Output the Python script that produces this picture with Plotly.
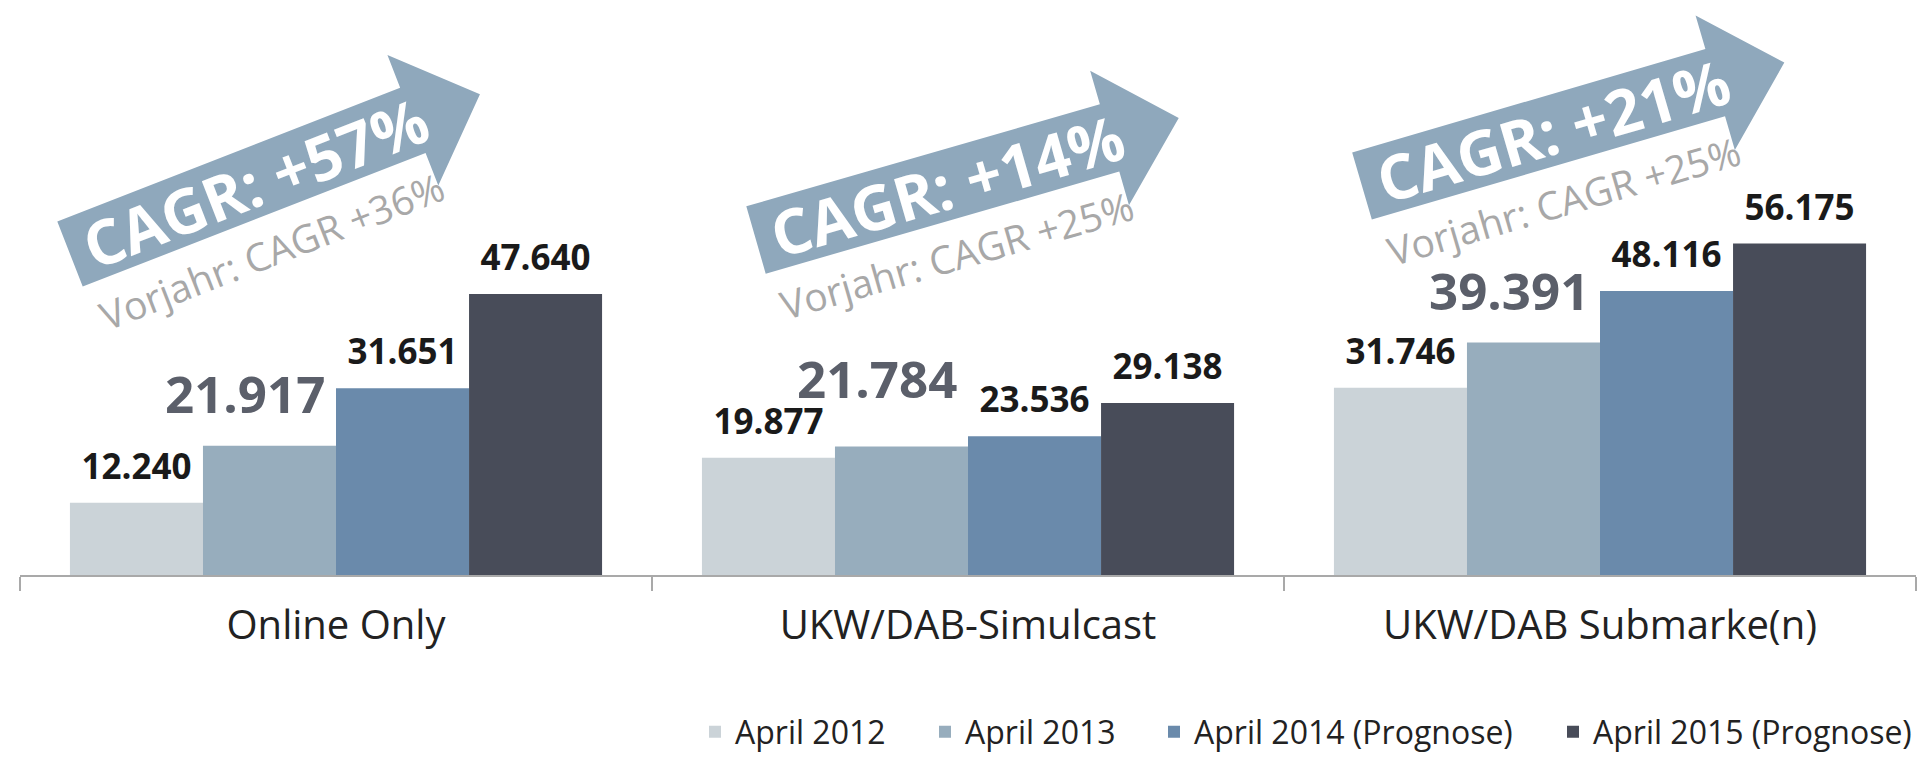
import math
import plotly.graph_objects as go

# ---------------- data ----------------
categories = ["Online Only", "UKW/DAB-Simulcast", "UKW/DAB Submarke(n)"]
series_names = ["April 2012", "April 2013", "April 2014 (Prognose)", "April 2015 (Prognose)"]
values_2012 = [12240, 19877, 31746]
values_2013 = [21917, 21784, 39391]
values_2014 = [31651, 23536, 48116]
values_2015 = [47640, 29138, 56175]
cagr_labels = ["CAGR: +57%", "CAGR: +14%", "CAGR: +21%"]
vorjahr_labels = ["Vorjahr: CAGR +36%", "Vorjahr: CAGR +25%", "Vorjahr: CAGR +25%"]

# ---------------- styling ----------------
bar_colors = ["#cbd3d8", "#97adbd", "#6a8aab", "#484c59"]
arrow_color = "#8fa8bc"
W, H = 1928, 757
ML, MR, MT, MB = 12, 20, 0, 190
PW = W - ML - MR
PH = H - MT - MB
Y_MAX = 96100
BARGAP = 0.158
N_SERIES = 4
BAR_PX = PW / len(categories) * (1 - BARGAP) / N_SERIES
HIGHLIGHT = 1  # April 2013 labels are emphasised
LABEL_CLEAR = 4500  # keep emphasised label clear of the neighbouring (left) label

NORMAL_TT = ("<b><span style='font-size:35px'>%{y:,.0f}</span></b>"
             "<br><span style='color:rgba(0,0,0,0)'>.</span>")

legend_text_px = [727, 957, 1186, 1585]
legend_ids = ["legend", "legend2", "legend3", "legend4"]

fig = go.Figure()
all_values = [values_2012, values_2013, values_2014, values_2015]
for i, (name, vals) in enumerate(zip(series_names, all_values)):
    big = (i == HIGHLIGHT)
    fig.add_trace(go.Bar(
        name=name, x=categories, y=vals,
        legend=legend_ids[i],
        marker=dict(color=bar_colors[i], line=dict(width=0)),
        texttemplate=None if big else NORMAL_TT,
        textposition="none" if big else "outside",
        textangle=0,
        constraintext="none",
        cliponaxis=False,
        outsidetextfont=dict(family="Open Sans", size=13, color="#1a1a1a"),
        hoverinfo="skip",
    ))


def de_format(v):
    return f"{v:,.0f}".replace(",", ".")


annotations = []
# emphasised April 2013 value labels (sit slightly left of their bar)
offset_px = (HIGHLIGHT - (N_SERIES - 1) / 2) * BAR_PX
for cat, v, v_left in zip(categories, values_2013, values_2012):
    annotations.append(dict(
        xref="x", yref="y", x=cat, y=max(v, v_left + LABEL_CLEAR),
        text=f"<b>{de_format(v)}</b>",
        showarrow=False, xanchor="center", yanchor="bottom",
        xshift=offset_px - 24, yshift=16,
        font=dict(family="Open Sans", size=51, color="#5b5f6a")))


def to_paper(px, py):
    return (px - ML) / PW, (H - MB - py) / PH


# decorative CAGR arrows (pixel geometry)
arrow_tail = [(62, 246), (748, 232), (1354, 178)]
arrow_angle = [21.3, 16.1, 16.3]
SHAFT_LEN, HEAD_LEN, SHAFT_W, HEAD_W = 368, 72, 70, 140
TEXT_ALONG, SUB_ALONG, SUB_NORMAL = 199, 189, 70

shapes = []
for (cx, cy), ang, lab, sub in zip(arrow_tail, arrow_angle, cagr_labels, vorjahr_labels):
    a = math.radians(ang)
    d = (math.cos(a), -math.sin(a))
    n = (math.sin(a), math.cos(a))

    def pt(u, v):
        return (cx + u * d[0] + v * n[0], cy + u * d[1] + v * n[1])

    local = [(0, -SHAFT_W / 2), (SHAFT_LEN, -SHAFT_W / 2), (SHAFT_LEN, -HEAD_W / 2),
             (SHAFT_LEN + HEAD_LEN, 0), (SHAFT_LEN, HEAD_W / 2), (SHAFT_LEN, SHAFT_W / 2),
             (0, SHAFT_W / 2)]
    pts = [to_paper(*pt(u, v)) for u, v in local]
    path = "M " + " L ".join(f"{x:.5f},{y:.5f}" for x, y in pts) + " Z"
    shapes.append(dict(type="path", xref="paper", yref="paper", path=path,
                       fillcolor=arrow_color, line=dict(width=0), layer="below"))
    tx, ty = to_paper(*pt(TEXT_ALONG, 0))
    annotations.append(dict(xref="paper", yref="paper", x=tx, y=ty, text=f"<b>{lab}</b>",
                            showarrow=False, textangle=-ang, xanchor="center", yanchor="middle",
                            font=dict(family="Open Sans", size=62, color="white")))
    sx, sy = to_paper(*pt(SUB_ALONG, SUB_NORMAL))
    annotations.append(dict(xref="paper", yref="paper", x=sx, y=sy, text=sub,
                            showarrow=False, textangle=-ang, xanchor="center", yanchor="middle",
                            font=dict(family="Open Sans", size=39, color="#a8a8a8")))

legend_y = -(724 - (H - MB)) / PH
legend_layouts = {}
for lid, tpx in zip(legend_ids, legend_text_px):
    legend_layouts[lid] = dict(
        orientation="h", x=(tpx - 40 - ML) / PW, xanchor="left",
        y=legend_y, yanchor="middle",
        font=dict(family="Open Sans", size=32, color="#222222"),
        bgcolor="rgba(0,0,0,0)", borderwidth=0)

fig.update_layout(
    width=W, height=H,
    margin=dict(l=ML, r=MR, t=MT, b=MB, autoexpand=False),
    paper_bgcolor="white", plot_bgcolor="white",
    barmode="group", bargap=BARGAP, bargroupgap=0,
    separators=",.",
    font=dict(family="Open Sans", color="#222222"),
    xaxis=dict(type="category", range=[-0.5, 2.5], showline=True, linecolor="#a9a9a9",
               linewidth=2, ticks="outside", tickson="boundaries", ticklen=14, tickwidth=2,
               tickcolor="#a9a9a9", showgrid=False, zeroline=False, ticklabelstandoff=14,
               tickfont=dict(family="Open Sans", size=40, color="#222222")),
    yaxis=dict(visible=False, range=[0, Y_MAX], showgrid=False, zeroline=False),
    shapes=shapes,
    annotations=annotations,
    showlegend=True,
    **legend_layouts,
)

fig.write_html("out.html")
